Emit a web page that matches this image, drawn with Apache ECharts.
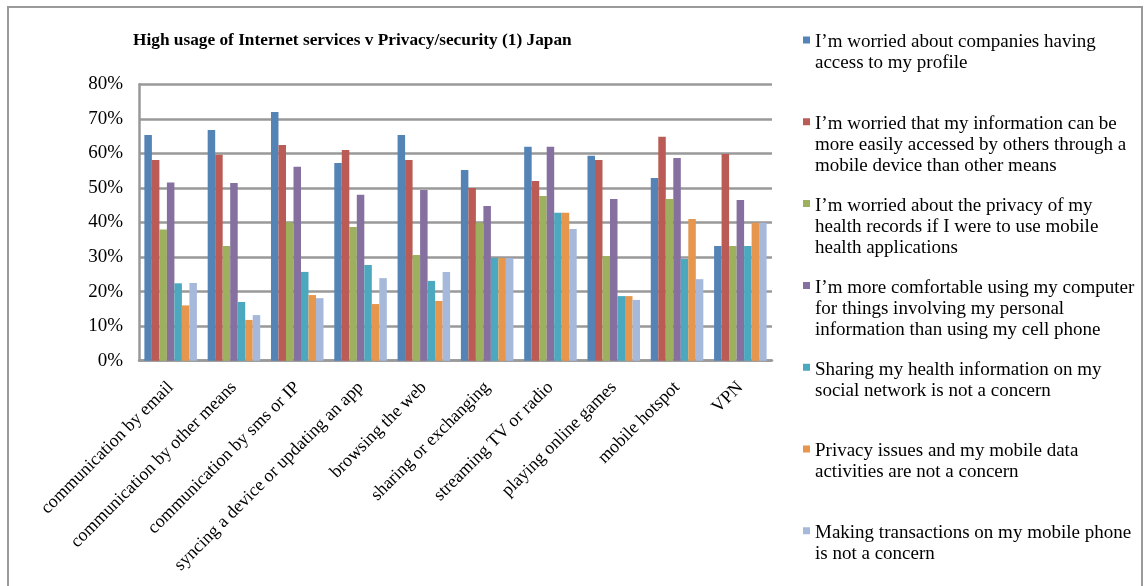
<!DOCTYPE html>
<html><head><meta charset="utf-8">
<script src="https://cdn.jsdelivr.net/npm/echarts@6/dist/echarts.min.js"></script>
<style>html,body{margin:0;padding:0;background:#fff}#c{width:1144px;height:586px}</style>
</head><body><div id="c"></div>
<script>
const categories = ['communication by email','communication by other means','communication by sms or IP','syncing a device or updating an app','browsing the web','sharing or exchanging','streaming TV or radio','playing online games','mobile hotspot','VPN'];
const seriesNames = [
 'I’m worried about companies having access to my profile',
 'I’m worried that my information can be more easily accessed by others through a mobile device than other means',
 'I’m worried about the privacy of my health records if I were to use mobile health applications',
 'I’m more comfortable using my computer for things involving my personal information than using my cell phone',
 'Sharing my health information on my social network is not a concern',
 'Privacy issues and my mobile data activities are not a concern',
 'Making transactions on my mobile phone is not a concern'
];
const legendLines = [
 ['I’m worried about companies having','access to my profile'],
 ['I’m worried that my information can be','more easily accessed by others through a','mobile device than other means'],
 ['I’m worried about the privacy of my','health records if I were to use mobile','health applications'],
 ['I’m more comfortable using my computer','for things involving my personal','information than using my cell phone'],
 ['Sharing my health information on my','social network is not a concern'],
 ['Privacy issues and my mobile data','activities are not a concern'],
 ['Making transactions on my mobile phone','is not a concern']
];
const worriedCompanies = [65.3,66.8,72.0,57.2,65.3,55.2,61.9,59.3,52.9,33.2];
const worriedMobileAccess = [58.1,59.6,62.4,61.0,58.1,50.0,52.0,58.1,64.8,59.8];
const worriedHealthRecords = [38.0,33.2,40.1,38.7,30.6,39.9,47.7,30.3,46.8,33.2];
const comfortableComputer = [51.6,51.4,56.1,48.0,49.4,44.8,61.9,46.8,58.7,46.5];
const sharingHealthOk = [22.4,17.0,25.7,27.7,23.1,29.7,42.8,18.7,29.4,33.2];
const privacyDataOk = [16.0,11.8,19.0,16.4,17.3,29.7,42.8,18.7,41.0,39.9];
const transactionsOk = [22.5,13.2,18.1,23.9,25.7,29.7,38.1,17.6,23.6,39.9];
const seriesValues = [worriedCompanies,worriedMobileAccess,worriedHealthRecords,comfortableComputer,sharingHealthOk,privacyDataOk,transactionsOk];
const colors = ['#5484B6','#BA5C55','#9CB05E','#8570A0','#4BA8BE','#E6974D','#A6B9DB'];
const yMax = 80, yStep = 10;

const FONT = '"Liberation Serif", "Times New Roman", serif';
const LH = 21;
function iconPath(n){
  const h = n*LH;
  return 'path://M0,0h0.01v0.01h-0.01z M0,4.5h7v7h-7z M0,' + (h-0.01) + 'h0.01v0.01h-0.01z';
}
const legends = seriesNames.map((nm,i)=>({
  data:[nm], orient:'vertical', left:803, top:32 + i*81.8, padding:0,
  itemWidth:7, itemHeight:legendLines[i].length*LH, icon:iconPath(legendLines[i].length),
  selectedMode:false,
  textStyle:{fontFamily:FONT,fontSize:19,lineHeight:LH,color:'#000'},
  formatter:()=>legendLines[i].join('\n')
}));

const chart = echarts.init(document.getElementById('c'),null,{renderer:'canvas'});
chart.setOption({
  animation:false,
  color:colors,
  title:{text:'High usage of Internet services v Privacy/security (1) Japan',left:133,top:32,padding:0,
    textStyle:{fontFamily:FONT,fontSize:17.3,fontWeight:'bold',color:'#000'}},
  graphic:[{type:'rect',shape:{x:8,y:7,width:1134,height:640},style:{fill:'none',stroke:'#9a9a9a',lineWidth:2},silent:true}],
  legend:legends,
  grid:{left:139,right:372,top:84.3,bottom:225.3},
  xAxis:{type:'category',data:categories,
    axisLine:{lineStyle:{color:'#999',width:2.5}},axisTick:{show:false},
    axisLabel:{rotate:45,interval:0,margin:24,fontFamily:FONT,fontSize:18,color:'#000'}},
  yAxis:{type:'value',min:0,max:yMax,interval:yStep,
    axisLine:{show:true,lineStyle:{color:'#999',width:2.5}},axisTick:{show:false},
    splitLine:{lineStyle:{color:'#999',width:2.5}},
    axisLabel:{formatter:'{value}%',margin:16,fontFamily:FONT,fontSize:19,color:'#000'}},
  series:seriesValues.map((v,i)=>({name:seriesNames[i],type:'bar',data:v,barGap:'0%',barCategoryGap:'17%'}))
});
</script></body></html>
